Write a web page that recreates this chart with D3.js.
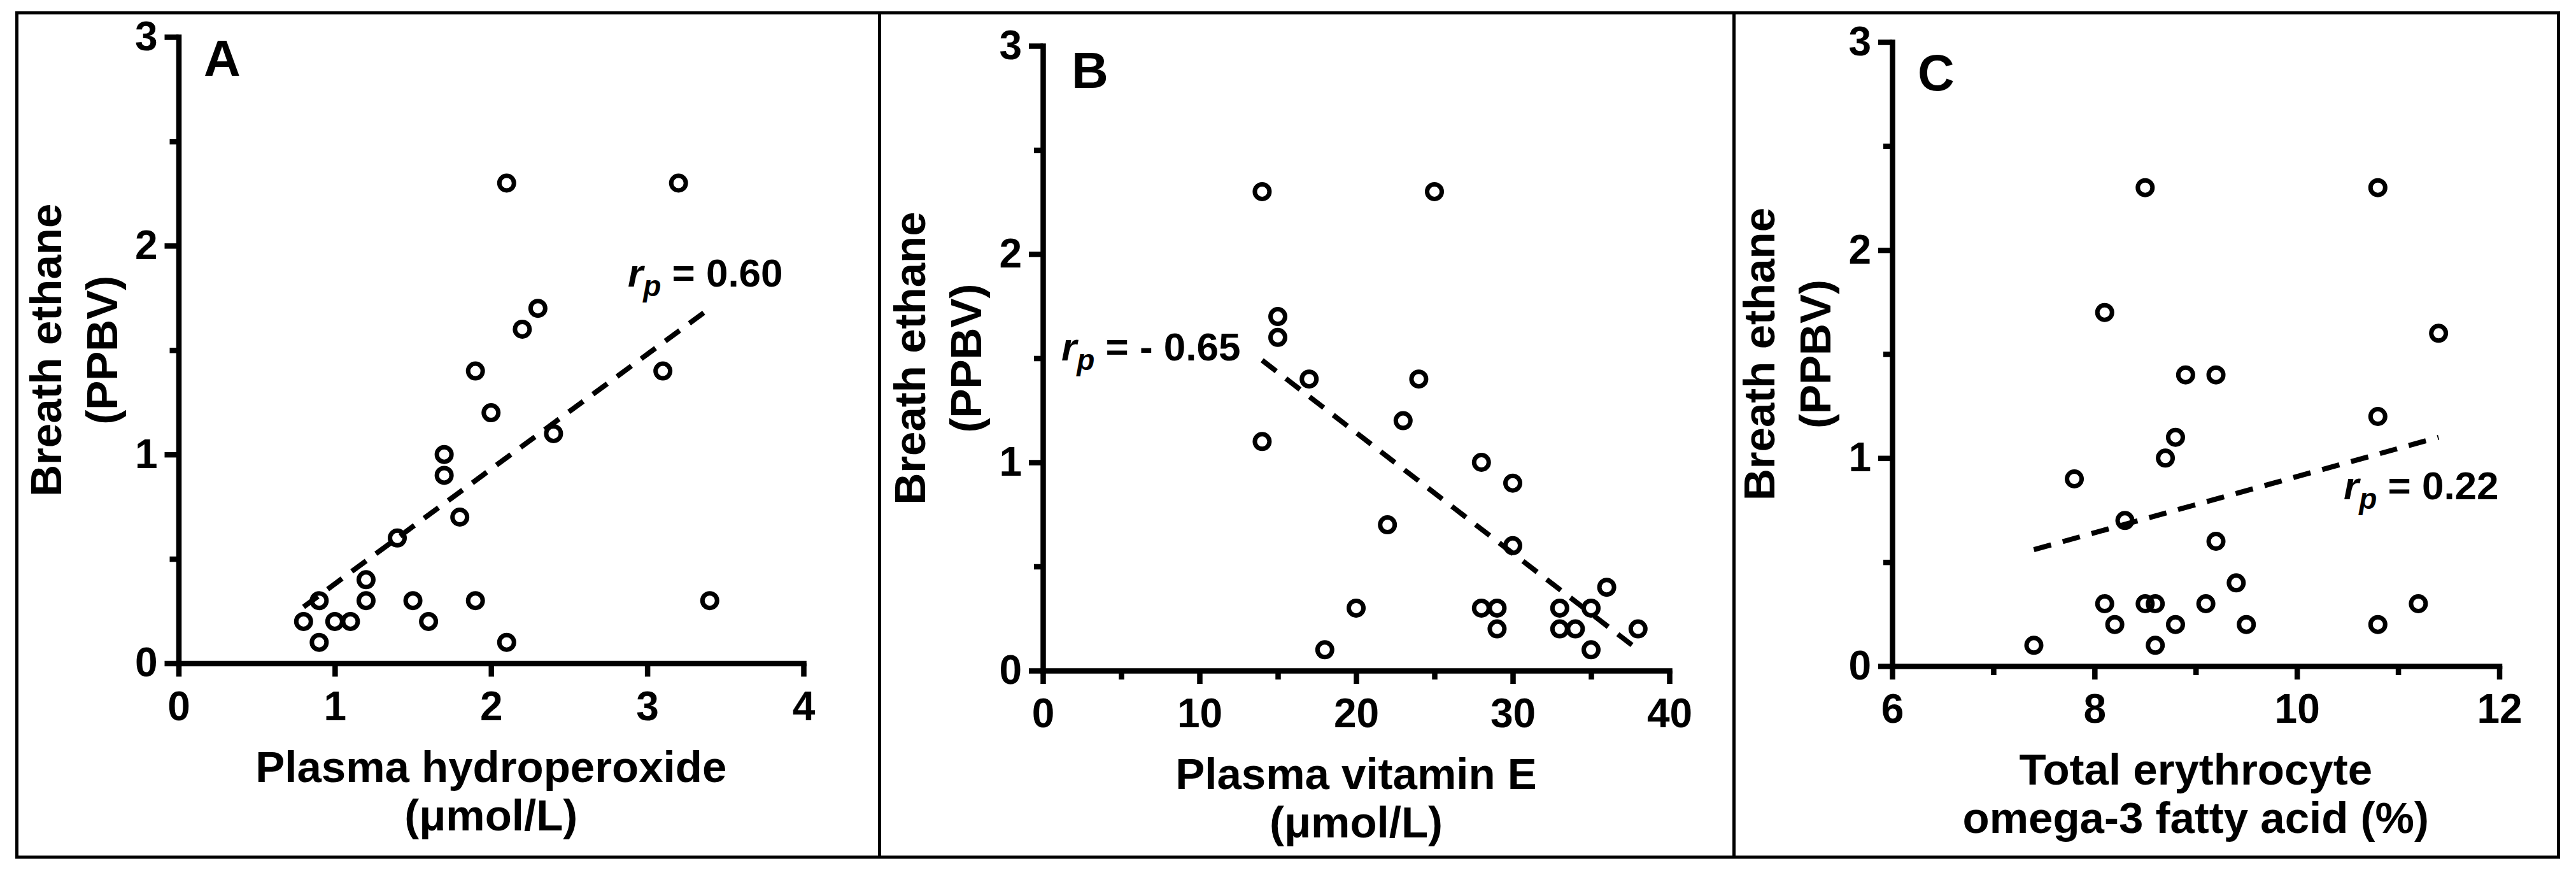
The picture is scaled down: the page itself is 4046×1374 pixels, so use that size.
<!DOCTYPE html>
<html>
<head>
<meta charset="utf-8">
<script src="https://cdn.jsdelivr.net/npm/d3@7"></script>
<style>
  html, body { margin: 0; padding: 0; background: #fff; }
  svg { display: block; }
  text { font-family: "Liberation Sans", Arial, Helvetica, sans-serif; font-weight: bold; fill: #000; }
</style>
</head>
<body>
<script>
// ---------------- data ----------------
const yTicks = [0, 1, 2, 3];
const yMinorTicks = [0.5, 1.5, 2.5];
const yTitle = ["Breath ethane", "(PPBV)"];
const panelLetters = ["A", "B", "C"];

// Panel A: plasma hydroperoxide vs breath ethane
const aX = [2.1, 3.2, 2.3, 2.2, 1.9, 3.1, 2.0, 2.4, 1.7, 1.7, 1.8, 1.4, 1.2, 1.2, 0.9, 0.8, 1.0, 1.1, 0.9, 1.5, 1.6, 1.9, 2.1, 3.4];
const aY = [2.3, 2.3, 1.7, 1.6, 1.4, 1.4, 1.2, 1.1, 1.0, 0.9, 0.7, 0.6, 0.4, 0.3, 0.3, 0.2, 0.2, 0.2, 0.1, 0.3, 0.2, 0.3, 0.1, 0.3];
const aFitX = [0.8, 3.4];
const aFitY = [0.27, 1.70];
const aXTicks = [0, 1, 2, 3, 4];
const aXMinor = [];
const aXTitle = ["Plasma hydroperoxide", "(\u03bcmol/L)"];
const aR = "0.60";

// Panel B: plasma vitamin E vs breath ethane
const bX = [14, 25, 15, 15, 17, 24, 23, 14, 28, 30, 22, 30, 20, 18, 28, 29, 29, 33, 33, 34, 35, 35, 36, 38];
const bY = [2.3, 2.3, 1.7, 1.6, 1.4, 1.4, 1.2, 1.1, 1.0, 0.9, 0.7, 0.6, 0.3, 0.1, 0.3, 0.3, 0.2, 0.3, 0.2, 0.2, 0.3, 0.1, 0.4, 0.2];
const bFitX = [14, 38];
const bFitY = [1.49, 0.10];
const bXTicks = [0, 10, 20, 30, 40];
const bXMinor = [5, 15, 25, 35];
const bXTitle = ["Plasma vitamin E", "(\u03bcmol/L)"];
const bR = "- 0.65";

// Panel C: total erythrocyte omega-3 vs breath ethane
const cX = [8.5, 10.8, 8.1, 11.4, 8.9, 9.2, 10.8, 8.8, 8.7, 7.8, 8.3, 9.2, 9.4, 8.1, 8.5, 8.6, 9.1, 11.2, 8.2, 8.8, 9.5, 10.8, 7.4, 8.6];
const cY = [2.3, 2.3, 1.7, 1.6, 1.4, 1.4, 1.2, 1.1, 1.0, 0.9, 0.7, 0.6, 0.4, 0.3, 0.3, 0.3, 0.3, 0.3, 0.2, 0.2, 0.2, 0.2, 0.1, 0.1];
const cFitX = [7.4, 11.4];
const cFitY = [0.56, 1.10];
const cXTicks = [6, 8, 10, 12];
const cXMinor = [7, 9, 11];
const cXTitle = ["Total erythrocyte", "omega-3 fatty acid (%)"];
const cR = "0.22";

// ---------------- layout ----------------
const W = 4046, H = 1374;
const svg = d3.select("body").append("svg").attr("width", W).attr("height", H);
svg.append("rect").attr("width", W).attr("height", H).attr("fill", "#fff");

// outer frame and dividers
const frame = { x0: 26.5, y0: 20, x1: 4018.5, y1: 1346 };
svg.append("rect")
  .attr("x", frame.x0).attr("y", frame.y0)
  .attr("width", frame.x1 - frame.x0).attr("height", frame.y1 - frame.y0)
  .attr("fill", "none").attr("stroke", "#000").attr("stroke-width", 5);
[1381.5, 2723.5].forEach(x => {
  svg.append("line").attr("x1", x).attr("x2", x).attr("y1", frame.y0).attr("y2", frame.y1)
    .attr("stroke", "#000").attr("stroke-width", 5);
});

const panels = [
  { xs: aX, ys: aY, fx: aFitX, fy: aFitY, dom: [0, 4], xTicks: aXTicks, xMinor: aXMinor, xTitle: aXTitle, r: aR,
    px: [280.5, 1262], py: [1041.5, 58], letterPos: [320, 119], rPos: [986, 450] },
  { xs: bX, ys: bY, fx: bFitX, fy: bFitY, dom: [0, 40], xTicks: bXTicks, xMinor: bXMinor, xTitle: bXTitle, r: bR,
    px: [1638, 2622], py: [1053, 72], letterPos: [1683, 138], rPos: [1667, 566] },
  { xs: cX, ys: cY, fx: cFitX, fy: cFitY, dom: [6, 12], xTicks: cXTicks, xMinor: cXMinor, xTitle: cXTitle, r: cR,
    px: [2972, 3925.5], py: [1046, 66], letterPos: [3012, 142], rPos: [3681, 784] }
];

const AXW = 8.5;
const tickFont = 64, titleFont = 69;

function styleAxis(g, showText) {
  g.select(".domain").attr("stroke", "#000").attr("stroke-width", AXW).attr("stroke-linecap", "square");
  g.selectAll(".tick line").attr("stroke", "#000").attr("stroke-width", AXW);
  g.selectAll(".tick text").style("font-size", tickFont + "px")
    .style("font-family", '"Liberation Sans", Arial, sans-serif').style("font-weight", "bold").attr("fill", "#000");
  if (!showText) g.selectAll(".tick text").remove();
}

panels.forEach((p, i) => {
  const x = d3.scaleLinear().domain(p.dom).range(p.px);
  const y = d3.scaleLinear().domain([0, 3]).range(p.py);
  const g = svg.append("g");

  // minor ticks
  const gyMinor = g.append("g").attr("transform", `translate(${p.px[0]},0)`)
    .call(d3.axisLeft(y).tickValues(yMinorTicks).tickSize(14).tickSizeOuter(0).tickFormat(""));
  gyMinor.select(".domain").remove();
  styleAxis(gyMinor, false);
  if (p.xMinor.length) {
    const gxMinor = g.append("g").attr("transform", `translate(0,${p.py[0]})`)
      .call(d3.axisBottom(x).tickValues(p.xMinor).tickSize(14).tickSizeOuter(0).tickFormat(""));
    gxMinor.select(".domain").remove();
    styleAxis(gxMinor, false);
  }

  // major axes
  const gy = g.append("g").attr("transform", `translate(${p.px[0]},0)`)
    .call(d3.axisLeft(y).tickValues(yTicks).tickSize(22).tickSizeOuter(0).tickPadding(11).tickFormat(d3.format("d")));
  styleAxis(gy, true);
  const gx = g.append("g").attr("transform", `translate(0,${p.py[0]})`)
    .call(d3.axisBottom(x).tickValues(p.xTicks).tickSize(21).tickSizeOuter(0).tickPadding(23).tickFormat(d3.format("d")));
  styleAxis(gx, true);

  // regression line
  const fitData = p.fx.map((v, k) => [v, p.fy[k]]);
  g.append("path")
    .attr("d", d3.line().x(d => x(d[0])).y(d => y(d[1]))(fitData))
    .attr("fill", "none").attr("stroke", "#000").attr("stroke-width", 8)
    .attr("stroke-dasharray", "28,19");

  // points
  const pts = p.xs.map((v, k) => [v, p.ys[k]]);
  g.append("g").selectAll("circle").data(pts).join("circle")
    .attr("cx", d => x(d[0])).attr("cy", d => y(d[1])).attr("r", 11.5)
    .attr("fill", "none").attr("stroke", "#000").attr("stroke-width", 7);

  // panel letter
  g.append("text").attr("x", p.letterPos[0]).attr("y", p.letterPos[1])
    .style("font-size", "80px").text(panelLetters[i]);

  // y title (rotated, two lines)
  const cy = (p.py[0] + p.py[1]) / 2;
  [[yTitle[0], -185], [yTitle[1], -97]].forEach(([t, off]) => {
    g.append("text")
      .attr("transform", `translate(${p.px[0] + off},${cy}) rotate(-90)`)
      .attr("text-anchor", "middle").style("font-size", titleFont + "px").text(t);
  });

  // x title (two lines)
  const cx = (p.px[0] + p.px[1]) / 2;
  [[p.xTitle[0], 186], [p.xTitle[1], 262]].forEach(([t, off]) => {
    g.append("text").attr("x", cx).attr("y", p.py[0] + off)
      .attr("text-anchor", "middle").style("font-size", titleFont + "px").text(t);
  });

  // r_p label
  const rt = g.append("text").attr("x", p.rPos[0]).attr("y", p.rPos[1]).style("font-size", "62px");
  rt.append("tspan").style("font-style", "italic").text("r");
  rt.append("tspan").style("font-style", "italic").style("font-size", "46px").attr("dy", 15).text("p");
  rt.append("tspan").attr("dy", -15).text(" = " + p.r);
});
</script>
</body>
</html>
